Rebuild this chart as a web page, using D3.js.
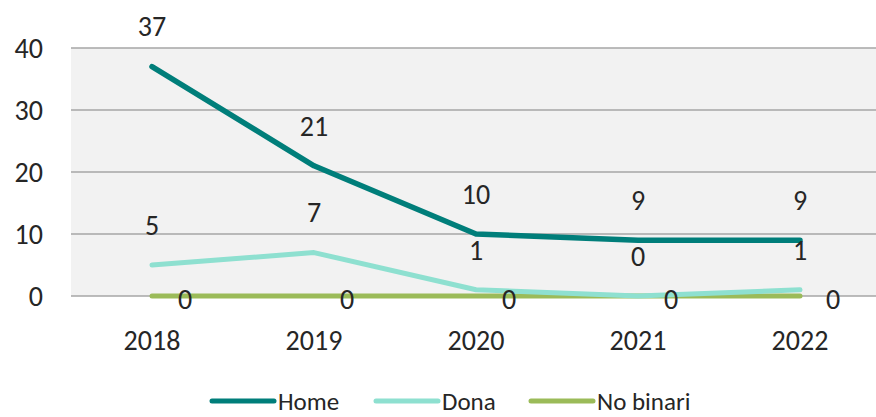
<!DOCTYPE html>
<html><head><meta charset="utf-8">
<script src="https://cdn.jsdelivr.net/npm/d3@7"></script>
<style>body{margin:0;background:#fff}svg{display:block}text{font-family:Carlito,Lato,"Open Sans","Liberation Sans",sans-serif;fill:#262626}</style>
</head><body><svg id="c" width="876" height="417"></svg>
<script>
const years = ["2018","2019","2020","2021","2022"];
const home = [37,21,10,9,9];
const dona = [5,7,1,0,1];
const noBinari = [0,0,0,0,0];
const yTicks = [0,10,20,30,40];
const seriesNames = ["Home","Dona","No binari"];
const colors = ["#007e7a","#8ee0d0","#9bbb59"];

const svg = d3.select("#c");
const L = 71, R = 881, T = 48, B = 296;
const x = d3.scaleBand().domain(years).range([L,R]);
const y = d3.scaleLinear().domain([0,40]).range([B,T]);

svg.append("rect").attr("x",L).attr("y",T).attr("width",R-L).attr("height",B-T).attr("fill","#f2f2f2");
svg.append("g").selectAll("line").data(yTicks).join("line")
  .attr("x1",L).attr("x2",R).attr("y1",d=>y(d)).attr("y2",d=>y(d))
  .attr("stroke","#a6a6a6").attr("stroke-width",1.3);

svg.append("g").selectAll("text").data(yTicks).join("text")
  .attr("x",L-28).attr("y",d=>y(d)).attr("dy","0.35em").attr("text-anchor","end")
  .attr("font-size",28).text(d=>d);
svg.append("g").selectAll("text").data(years).join("text")
  .attr("x",d=>x(d)+x.bandwidth()/2).attr("y",340).attr("dy","0.35em").attr("text-anchor","middle")
  .attr("font-size",28).text(d=>d);

const series = [home,dona,noBinari];
const line = d3.line().x((d,i)=>x(years[i])+x.bandwidth()/2).y(d=>y(d));
[2,1,0].forEach(k=>{
  svg.append("path").datum(series[k]).attr("d",line).attr("fill","none")
    .attr("stroke",colors[k]).attr("stroke-width",k===0?5.5:5).attr("stroke-linecap","round").attr("stroke-linejoin","round");
});
// labels
[0,1].forEach(k=>{
  svg.append("g").selectAll("text").data(series[k]).join("text")
    .attr("x",(d,i)=>x(years[i])+x.bandwidth()/2).attr("y",d=>y(d)-40).attr("dy","0.35em")
    .attr("text-anchor","middle").attr("font-size",28).text(d=>d);
});
svg.append("g").selectAll("text").data(noBinari).join("text")
  .attr("x",(d,i)=>x(years[i])+x.bandwidth()/2+33).attr("y",d=>y(d)+3).attr("dy","0.35em")
  .attr("text-anchor","middle").attr("font-size",28).text(d=>d);

// legend
const lg = [212,376,531];
seriesNames.forEach((n,k)=>{
  const g = svg.append("g").attr("transform",`translate(${lg[k]},401)`);
  g.append("line").attr("x1",0).attr("x2",62).attr("stroke",colors[k]).attr("stroke-width",5).attr("stroke-linecap","round");
  g.append("text").attr("x",66).attr("dy","0.35em").attr("font-size",25).text(n);
});
</script></body></html>
